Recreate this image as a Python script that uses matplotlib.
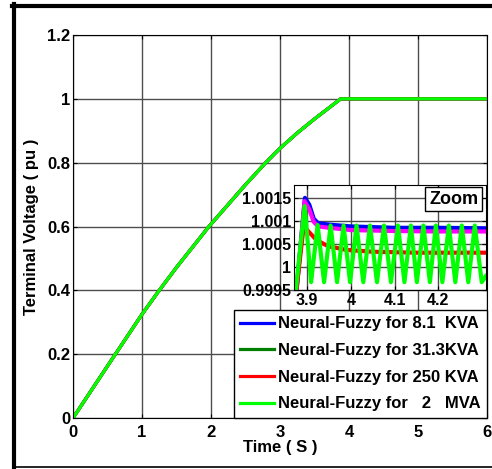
import matplotlib
matplotlib.use("Agg")
import matplotlib.pyplot as plt
from matplotlib.lines import Line2D

plt.rcParams['font.family'] = ['Liberation Sans', 'DejaVu Sans']
plt.rcParams['font.weight'] = 'bold'

# main ramp (all four cases lie on top of each other)
t_main = [0, 0.5, 1.0, 1.24, 1.5, 1.97, 2.5, 2.78, 3.0, 3.25, 3.5, 3.88, 6.0]
v_main = [0, 0.163, 0.325, 0.397, 0.472, 0.6, 0.731, 0.797, 0.845, 0.893, 0.937, 1.0, 1.0]

labels = ['Neural-Fuzzy for 8.1  KVA', 'Neural-Fuzzy for 31.3KVA',
          'Neural-Fuzzy for 250 KVA', 'Neural-Fuzzy for   2   MVA']
colors = ['#0000ff', '#008000', '#ff0000', '#00ff00']

# zoomed window
t_blue = [3.874, 3.895, 3.905, 3.915, 3.925, 3.95, 4.0, 4.1, 4.2, 4.309]
v_blue = [0.9993, 1.00150, 1.00135, 1.00105, 1.00095, 1.00092, 1.00088, 1.00085, 1.00085, 1.00084]
t_mag = [3.874, 3.894, 3.905, 3.915, 3.925, 3.95, 4.0, 4.1, 4.2, 4.309]
v_mag = [0.9993, 1.00143, 1.00125, 1.00098, 1.00088, 1.00085, 1.0008, 1.00078, 1.00077, 1.00077]
t_red = [3.873, 3.892, 3.905, 3.922, 3.948, 3.99, 4.05, 4.15, 4.309]
v_red = [0.9993, 1.00088, 1.00075, 1.00058, 1.00045, 1.00037, 1.00033, 1.00031, 1.00031]
t_grn = [3.872, 3.8943, 3.9091, 3.9240, 3.9388, 3.9537, 3.9685, 3.9833, 3.9982,
         4.0130, 4.0285, 4.0438, 4.0598, 4.0758, 4.0918, 4.1078, 4.1226, 4.1374,
         4.1511, 4.1660, 4.1808, 4.1945, 4.2094, 4.2242, 4.2390, 4.2539, 4.2687,
         4.2836, 4.2995, 4.3087]
v_grn = [0.9993, 1.00132, 0.99967, 1.00091, 0.99967, 1.0009, 0.99967, 1.0009, 0.99967,
         1.0009, 0.99967, 1.0009, 0.99967, 1.0009, 0.99967, 1.0009, 0.99967, 1.0009,
         0.99967, 1.0009, 0.99967, 1.0009, 0.99967, 1.0009, 0.99967, 1.0009, 0.99967,
         1.0009, 0.99967, 0.9998]
inset_yticks = [0.9995, 1.0, 1.0005, 1.001, 1.0015]
inset_ylabels = ['0.9995', '1', '1.0005', '1.001', '1.0015']
inset_xticks = [3.9, 4.0, 4.1, 4.2]
inset_xlabels = ['3.9', '4', '4.1', '4.2']

fig = plt.figure(figsize=(4.92, 4.69), dpi=100)
ax = fig.add_axes([0.1484, 0.1087, 0.8415, 0.8167])

for c, lab in zip(colors, labels):
    ax.plot(t_main, v_main, color=c, lw=2.3, label=lab)

ax.set_xlim(0, 6)
ax.set_ylim(0, 1.2)
ax.set_xticks(range(7))
ax.set_yticks([0, 0.2, 0.4, 0.6, 0.8, 1.0, 1.2])
ax.set_yticklabels(['0', '0.2', '0.4', '0.6', '0.8', '1', '1.2'])
ax.grid(True, color='0.3', lw=1)
ax.tick_params(direction='in', top=True, right=True, labelsize=12, pad=2, length=3)
ax.tick_params(axis='x', pad=5)
ax.set_xlabel('Time ( S )', fontsize=12, fontweight='bold', labelpad=0)
ax.set_ylabel('Terminal Voltage ( pu )', fontsize=12, fontweight='bold', labelpad=6)

leg = ax.legend(loc='lower right', bbox_to_anchor=(1.0, 0.0),
                prop={'weight': 'bold', 'size': 12}, fancybox=False, framealpha=1,
                edgecolor='black', borderpad=0.4, labelspacing=0.7,
                handlelength=2.0, handletextpad=0.25, borderaxespad=0)
leg.get_frame().set_linewidth(1)

# inset
axi = fig.add_axes([0.5976, 0.3817, 0.390, 0.2239])
axi.plot(t_blue, v_blue, color='#0000ff', lw=3)
axi.plot(t_mag, v_mag, color='#ff00ff', lw=3)
axi.plot(t_red, v_red, color='#ff0000', lw=3)
axi.plot(t_grn, v_grn, color='#00ff00', lw=3)
axi.set_xlim(3.870, 4.309)
axi.set_ylim(0.9995, 1.00178)
axi.set_xticks(inset_xticks)
axi.set_xticklabels(inset_xlabels)
axi.set_yticks(inset_yticks)
axi.set_yticklabels(inset_ylabels)
axi.grid(True, color='0.3', lw=1)
axi.tick_params(direction='in', top=True, right=True, labelsize=11.5, pad=2, length=3)
axi.text(0.96, 0.945, 'Zoom', transform=axi.transAxes, ha='right', va='top',
         fontsize=13, fontweight='bold',
         bbox=dict(boxstyle='square,pad=0.2', fc='white', ec='black', lw=1))

# thick outer frame
fig.add_artist(Line2D([13.5 / 492, 13.5 / 492], [0, 1 - 4 / 469], transform=fig.transFigure,
                      color='black', lw=3))
fig.add_artist(Line2D([11.5 / 492, 1], [1 - 6 / 469, 1 - 6 / 469], transform=fig.transFigure,
                      color='black', lw=3))
fig.add_artist(Line2D([13.5 / 492, 1], [1 - 467 / 469, 1 - 467 / 469], transform=fig.transFigure,
                      color='black', lw=1.2))

fig.savefig('out.png', dpi=100)
